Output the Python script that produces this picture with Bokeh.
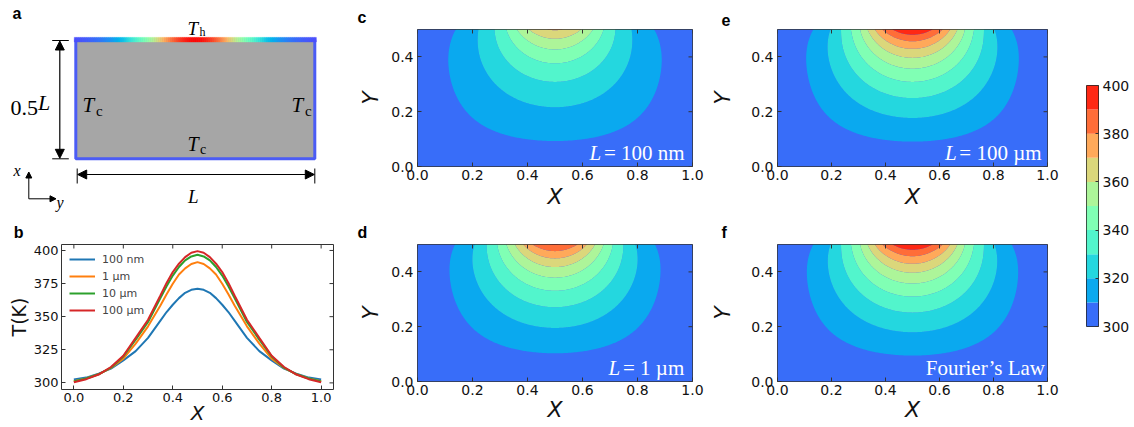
import numpy as np
from math import pi, sin, cos
from bokeh.plotting import figure
from bokeh.models import (Range1d, FixedTicker, PrintfTickFormatter, Label, Arrow, NormalHead)
from bokeh.layouts import row, column
from bokeh.embed import file_html
from bokeh.resources import INLINE

# ---------------- data ----------------
X_POS = [0.0, 0.05, 0.1, 0.15, 0.2, 0.25, 0.3, 0.35, 0.375, 0.4, 0.425, 0.45, 0.475, 0.5,
         0.525, 0.55, 0.575, 0.6, 0.625, 0.65, 0.7, 0.75, 0.8, 0.85, 0.9, 0.95, 1.0]
T_100NM = [302.5, 304.0, 307.0, 310.8, 317.0, 324.0, 334.0, 347.0, 353.5, 359.0, 364.0, 368.0, 370.3, 371.1,
           370.3, 368.0, 364.0, 359.0, 353.5, 347.0, 334.0, 324.0, 317.0, 310.8, 307.0, 304.0, 302.5]
T_1UM = [301.3, 303.3, 306.5, 311.3, 318.3, 329.6, 342.7, 358.5, 367.0, 374.9, 381.8, 386.5, 389.8, 391.2,
         389.8, 386.5, 381.8, 374.9, 367.0, 358.5, 342.7, 329.6, 318.3, 311.3, 306.5, 303.3, 301.3]
T_10UM = [301.0, 303.3, 306.5, 311.5, 320.0, 332.7, 346.0, 364.0, 373.0, 381.0, 387.5, 392.5, 395.5, 396.7,
          395.5, 392.5, 387.5, 381.0, 373.0, 364.0, 346.0, 332.7, 320.0, 311.5, 306.5, 303.3, 301.0]
T_100UM = [300.5, 302.8, 306.3, 312.0, 320.5, 334.0, 347.7, 366.0, 375.5, 383.7, 390.0, 395.0, 398.3, 399.5,
           398.3, 395.0, 390.0, 383.7, 375.5, 366.0, 347.7, 334.0, 320.5, 312.0, 306.3, 302.8, 300.5]
SERIES = [T_100NM, T_1UM, T_10UM, T_100UM]
SERIES_LABELS = ["100 nm", "1 \u00b5m", "10 \u00b5m", "100 \u00b5m"]
SERIES_COLORS = ["#1f77b4", "#ff7f0e", "#2ca02c", "#d62728"]

LEVELS = [300, 310, 320, 330, 340, 350, 360, 370, 380, 390, 400]
CBAR_TICKS = [300, 320, 340, 360, 380, 400]
B_XTICKS = [0.0, 0.2, 0.4, 0.6, 0.8, 1.0]
B_YTICKS = [300, 325, 350, 375, 400]
MAP_XTICKS = [0.0, 0.2, 0.4, 0.6, 0.8, 1.0]
MAP_YTICKS = [0.0, 0.2, 0.4]

# estimated effective wall temperature next to the cold edges of each map
T_WALL = {"c": 303.5, "d": 300.2, "e": 300.5, "f": 300.0}
# panel: (profile on the hot edge, italic part, upright part)
MAPS = {
    "c": (T_100NM, "L", "= 100 nm"),
    "d": (T_1UM, "L", "= 1 \u00b5m"),
    "e": (T_100UM, "L", "= 100 \u00b5m"),
    "f": (T_100UM, "", "Fourier\u2019s Law"),
}


def rainbow_hex(t):
    t = min(max(t, 0.0), 1.0)
    r = min(1.0, abs(2 * t - 0.5))
    g = sin(pi * t)
    b = cos(pi * t / 2)
    return "#%02x%02x%02x" % (int(round(r * 255)), int(round(g * 255)), int(round(b * 255)))


FILL_COLORS = [rainbow_hex(0.14 + 0.09 * i) for i in range(len(LEVELS) - 1)]


def temp_color(T):
    return rainbow_hex(0.095 + 0.9 * (T - 300.0) / 100.0)


def laplace_field(profile, t_wall, nx=241, ny=121, nterms=80):
    xs = np.linspace(0, 1, nx)
    ys = np.linspace(0, 0.5, ny)
    xf = np.linspace(0, 1, 2001)
    g = np.interp(xf, X_POS, profile) - t_wall
    Z = np.zeros((ny, nx))
    for n in range(1, nterms + 1):
        bn = 2 * np.trapezoid(g * np.sin(n * pi * xf), xf)
        Z += bn * np.outer(np.sinh(n * pi * ys) / np.sinh(n * pi * 0.5), np.sin(n * pi * xs))
    Z = np.clip(t_wall + Z, 300.05, 399.95)
    return xs, ys, Z


DESC = 0.216  # descent of the serif/sans fonts in em


def add_text(p, x, y, text, size, font="Liberation Serif", style="normal", color="black",
             align="left", angle=0.0):
    # y is the box bottom (baseline + descent)
    p.add_layout(Label(x=x, y=y, text=text, text_font=font, text_font_size=f"{size}px",
                       text_font_style=style, text_color=color, text_align=align,
                       text_baseline="bottom", angle=angle))


def style_axis(ax, ticks, size, fmt="%.1f", standoff=3, label=None, label_size=22,
               label_standoff=0, label_style="italic"):
    ax.ticker = FixedTicker(ticks=ticks)
    ax.formatter = PrintfTickFormatter(format=fmt)
    ax.major_tick_in = 4
    ax.major_tick_out = 0
    ax.minor_tick_line_color = None
    ax.axis_line_color = None
    ax.major_tick_line_color = "#333333"
    ax.major_label_text_font = "DejaVu Sans"
    ax.major_label_text_color = "#111111"
    ax.major_label_text_font_size = f"{size}px"
    ax.major_label_standoff = standoff
    if label is not None:
        ax.axis_label = label
        ax.axis_label_text_font = "DejaVu Sans"
        ax.axis_label_text_font_style = label_style
        ax.axis_label_text_font_size = f"{label_size}px"
        ax.axis_label_text_color = "#111111"
        ax.axis_label_standoff = label_standoff


def side_ticks(p, xr, yr, xticks, yticks, FW, FH, length=4):
    dx = length / FW * (xr[1] - xr[0])
    dy = length / FH * (yr[1] - yr[0])
    p.segment(x0=[xr[1] - dx] * len(yticks), y0=yticks, x1=[xr[1]] * len(yticks), y1=yticks,
              line_color="#333333", line_width=1)
    p.segment(x0=xticks, y0=[yr[1] - dy] * len(xticks), x1=xticks, y1=[yr[1]] * len(xticks),
              line_color="#333333", line_width=1)


def base_fig(w, h, l, r, t, b, xr, yr, letter, letter_off, letter_standoff):
    p = figure(width=w, height=h, x_range=Range1d(*xr), y_range=Range1d(*yr),
               min_border_left=l, min_border_right=r, min_border_top=t, min_border_bottom=b,
               output_backend="svg", toolbar_location=None, title=letter)
    p.title.align = "left"
    p.title.offset = letter_off
    p.title.standoff = letter_standoff
    p.title.text_font = "Liberation Sans"
    p.title.text_font_size = "16px"
    p.title.text_font_style = "bold"
    p.title.text_color = "black"
    p.grid.grid_line_color = None
    p.outline_line_color = "#333333"
    p.outline_line_width = 1
    p.background_fill_color = "white"
    p.border_fill_color = "white"
    return p


# ---------------- panel a (schematic, drawn in reference pixel space) ----------------
pa = figure(width=345, height=215, x_range=Range1d(0, 345), y_range=Range1d(215, 0),
            min_border=0, output_backend="svg", toolbar_location=None, title=None,
            x_axis_location=None, y_axis_location=None)
pa.grid.grid_line_color = None
pa.outline_line_color = None
pa.quad(left=75.3, right=314.3, top=39.2, bottom=158.3, fill_color="#a6a6a6",
        line_color="#4b5cf5", line_width=3)
strip_x = np.linspace(73.8, 315.8, 122)
strip_pos = np.linspace(0, 1, 121)
strip_T = np.interp(strip_pos, X_POS, T_100UM)
strip_cols = [temp_color(T) for T in strip_T]
pa.quad(left=strip_x[:-1], right=strip_x[1:], top=36.9, bottom=41.4,
        fill_color=strip_cols, line_color=strip_cols, line_width=0.5)
pa.segment(x0=[51.7, 51.7, 76.7, 314.3], y0=[40.0, 158.3, 168.0, 168.0],
           x1=[68.3, 68.3, 76.7, 314.3], y1=[40.0, 158.3, 183.0, 183.0],
           line_color="black", line_width=1)
for xs_, ys_, xe_, ye_ in [(59.3, 40.5, 59.3, 157.8), (77.2, 174.0, 313.8, 174.0)]:
    pa.add_layout(Arrow(start=NormalHead(size=9, fill_color="black", line_color="black"),
                        end=NormalHead(size=9, fill_color="black", line_color="black"),
                        x_start=xs_, y_start=ys_, x_end=xe_, y_end=ye_, line_width=1.2))
for xe_, ye_ in [(28.3, 171.5), (55.5, 198.3)]:
    pa.add_layout(Arrow(end=NormalHead(size=6, fill_color="black", line_color="black"),
                        x_start=28.3, y_start=198.3, x_end=xe_, y_end=ye_, line_width=1))


def a_text(x, baseline, text, size, **kw):
    add_text(pa, x, baseline + DESC * size, text, size, **kw)


a_text(187, 34.5, "T", 19, style="italic")
a_text(199, 35.5, "h", 12)
a_text(82, 112, "T", 21, style="italic")
a_text(95.5, 115, "c", 15)
a_text(291, 112, "T", 21, style="italic")
a_text(304.5, 115, "c", 15)
a_text(187, 150, "T", 20, style="italic")
a_text(199.5, 153, "c", 14)
a_text(10, 110, "0.5", 22)
a_text(37.5, 110, "L", 22, style="italic")
a_text(187.5, 202, "L", 19, style="italic")
a_text(13, 175, "x", 16, style="italic")
a_text(56, 207, "y", 16, style="italic")
a_text(12, 18.3, "a", 16, font="Liberation Sans", style="bold")

# ---------------- panel b (profiles) ----------------
BFW, BFH = 272, 145
bxr, byr = (-0.05, 1.05), (295.0, 404.5)
pb = base_fig(345, 212, 61, 12, 29, 38, bxr, byr, "b", -47.7, 7)
for vals, lab, col in zip(SERIES, SERIES_LABELS, SERIES_COLORS):
    pb.line(X_POS, vals, line_width=2, line_color=col, legend_label=lab)
style_axis(pb.xaxis[0], B_XTICKS, 13, label="X", label_size=20, label_standoff=-4)
style_axis(pb.yaxis[0], B_YTICKS, 13, fmt="%d", label="T(K)", label_size=19,
           label_standoff=1, label_style="normal")
side_ticks(pb, bxr, byr, B_XTICKS, B_YTICKS, BFW, BFH)
lg = pb.legend[0]
lg.location = "top_left"
lg.border_line_color = None
lg.background_fill_alpha = 0
lg.label_text_font = "DejaVu Sans"
lg.label_text_font_size = "11px"
lg.glyph_width = 26
lg.glyph_height = 14
lg.label_height = 14
lg.spacing = 3
lg.padding = 4
lg.margin = 8
lg.label_standoff = 7


# ---------------- contour panels ----------------
def map_panel(key, w, h, l, r, t, b, FL, FW, FH, xlab_standoff, ylab_standoff, letter_off,
              text_left_px):
    profile, ital, upright = MAPS[key]
    p = base_fig(w, h, l, r, t, b, (0, 1), (0, 0.5), key, letter_off, 7)
    p.background_fill_color = FILL_COLORS[0]
    xs, ys, Z = laplace_field(profile, T_WALL[key])
    p.contour(xs, ys, Z, levels=LEVELS, fill_color=FILL_COLORS)
    style_axis(p.xaxis[0], MAP_XTICKS, 14, label="X", label_size=22, label_standoff=xlab_standoff)
    style_axis(p.yaxis[0], MAP_YTICKS, 14, standoff=4, label="Y", label_size=22,
               label_standoff=ylab_standoff)
    side_ticks(p, (0, 1), (0, 0.5), MAP_XTICKS, MAP_YTICKS, FW, FH)
    yb = (6.0 - DESC * 21) / FH * 0.5
    x0 = (text_left_px - FL) / FW
    if ital:
        add_text(p, x0, yb, ital, 21, color="white", style="italic")
        add_text(p, x0 + 14.5 / FW, yb, upright, 21, color="white")
    else:
        add_text(p, x0, yb, upright, 21, color="white")
    return p


pc = map_panel("c", 362, 215, 72, 15, 29, 49, 417, 275, 137, 1, 5, -60, 589)
pd = map_panel("d", 362, 212, 72, 15, 29, 46, 417, 275, 137, -1, 5, -60, 608)
pe = map_panel("e", 353, 215, 66, 13, 29, 49, 773, 274, 137, 1, 13, -56, 943)
pf = map_panel("f", 353, 212, 66, 13, 29, 46, 773, 274, 137, -1, 13, -56, 923.5)

# ---------------- colorbar ----------------
pcb = figure(width=74, height=427, x_range=Range1d(0, 1), y_range=Range1d(300, 400),
             min_border_left=26, min_border_right=36, min_border_top=85, min_border_bottom=101,
             output_backend="svg", toolbar_location=None, title=None,
             x_axis_location=None, y_axis_location="right")
pcb.grid.grid_line_color = None
pcb.quad(left=0, right=1, bottom=LEVELS[:-1], top=LEVELS[1:], fill_color=FILL_COLORS,
         line_color=None)
pcb.outline_line_color = "#222222"
pcb.outline_line_width = 1
style_axis(pcb.yaxis[0], CBAR_TICKS, 14, fmt="%d", standoff=4)
pcb.yaxis[0].major_tick_in = 3

layout = row(column(row(pa), row(pb)), column(pc, pd), column(pe, pf), pcb)
open("out.html", "w").write(file_html(layout, INLINE))
